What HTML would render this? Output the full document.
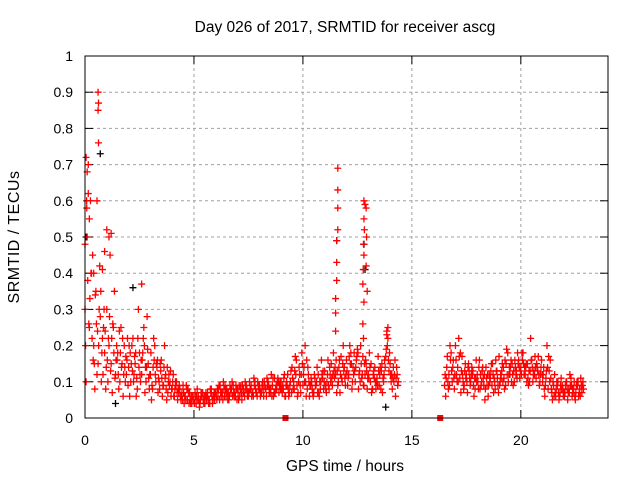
<!DOCTYPE html>
<html><head><meta charset="utf-8"><style>
body{margin:0;background:#fff}
svg{display:block;font-family:"Liberation Sans",sans-serif;font-size:14px}
</style></head><body>
<svg id="chart" width="640" height="480" viewBox="0 0 640 480">
<text x="345" y="32" text-anchor="middle" font-size="15.5">Day 026 of 2017, SRMTID for receiver ascg</text>
<text x="0" y="0" transform="translate(19,237) rotate(-90)" text-anchor="middle" font-size="16" letter-spacing="0.5">SRMTID / TECUs</text>
<text x="345" y="471" text-anchor="middle" font-size="15.5">GPS time / hours</text>
<g id="grid"></g>
<g id="ticks"></g>
<g id="marks"></g>
<rect x="85" y="56" width="523" height="362" fill="none" stroke="#000" stroke-width="1"/>
</svg>
<script>
const xTicks=[0,5,10,15,20];
const yTicks=[0,0.1,0.2,0.3,0.4,0.5,0.6,0.7,0.8,0.9,1];
const yTickLabels=["0","0.1","0.2","0.3","0.4","0.5","0.6","0.7","0.8","0.9","1"];
const hoursA=[0,0.1,0.2,0.3,0.4,0.5,0.6,0.7,0.8,0.9,1,1.1,1.2,1.3,1.4,1.5,1.6,1.7,1.8,1.9,2,2.1,2.2,2.3,2.4,2.5,2.6,2.7,2.8,2.9,3,3.1,3.2,3.3,3.4,3.5,3.6,3.7,3.8,3.9,4,4.1,4.2,4.3,4.4,4.5,4.6,4.7,4.8,4.9,5,5.1,5.2,5.3,5.4,5.5,5.6,5.7,5.8,5.9,6,6.1,6.2,6.3,6.4,6.5,6.6,6.7,6.8,6.9,7,7.1,7.2,7.3,7.4,7.5,7.6,7.7,7.8,7.9,8,8.1,8.2,8.3,8.4,8.5,8.6,8.7,8.8,8.9,9,9.1,9.2,9.3,9.4,9.5,9.6,9.7,9.8,9.9,10,10.1,10.2,10.3,10.4,10.5,10.6,10.7,10.8,10.9,11,11.1,11.2,11.3,11.4,11.5,11.6,11.7,11.8,11.9,12,12.1,12.2,12.3,12.4,12.5,12.6,12.7,12.8,12.9,13,13.1,13.2,13.3,13.4,13.5,13.6,13.7,13.8,13.9,14,14.1,14.2,14.3];
const tecA1=[.30,.50,.25,.40,.20,.35,.15,.28,.22,.18,.30,.20,.15,.25,.12,.18,.10,.15,.20,.12,.14,.10,.22,.15,.08,.18,.12,.25,.10,.15,.12,.08,.20,.14,.10,.16,.09,.12,.07,.10,.08,.06,.10,.07,.05,.09,.06,.05,.07,.04,.05,.04,.06,.05,.07,.04,.06,.05,.08,.06,.07,.06,.09,.07,.06,.08,.05,.07,.09,.06,.08,.06,.05,.07,.09,.06,.08,.07,.10,.06,.09,.07,.06,.08,.10,.07,.09,.11,.08,.07,.10,.08,.06,.12,.09,.14,.08,.16,.10,.07,.09,.20,.08,.06,.10,.07,.09,.12,.08,.11,.13,.10,.08,.15,.18,.12,.09,.07,.10,.14,.16,.12,.18,.14,.10,.19,.13,.11,.09,.15,.12,.10,.08,.14,.11,.09,.13,.10,.17,.22,.15,.08,.12,.14];
const tecB1=[.10,.70,.60,.45,.08,.12,.30,.10,.25,.08,.10,.45,.07,.35,.20,.08,.25,.06,.10,.22,.06,.20,.12,.06,.30,.10,.18,.07,.28,.08,.05,.22,.10,.07,.15,.06,.20,.05,.12,.06,.12,.10,.05,.08,.07,.04,.09,.07,.04,.06,.07,.08,.03,.06,.04,.07,.05,.08,.04,.05,.05,.09,.06,.10,.08,.05,.09,.10,.06,.08,.05,.09,.07,.10,.06,.10,.06,.11,.07,.09,.06,.10,.09,.11,.07,.12,.06,.08,.11,.10,.07,.12,.10,.06,.13,.08,.17,.06,.12,.18,.14,.06,.12,.09,.07,.11,.14,.06,.16,.08,.08,.16,.12,.09,.11,.07,.14,.17,.20,.09,.09,.20,.08,.18,.16,.08,.20,.17,.12,.08,.18,.07,.13,.08,.17,.14,.07,.16,.24,.13,.10,.14,.06,.09];
const tecC1=[.20,.38,.33,.22,.15,.26,.20,.35,.12,.24,.16,.28,.22,.18,.16,.12,.18,.22,.14,.16,.20,.15,.10,.18,.22,.12,.16,.20,.14,.11,.18,.14,.12,.16,.08,.11,.14,.08,.10,.13,.10,.08,.07,.09,.06,.07,.05,.08,.05,.06,.04,.06,.05,.07,.05,.06,.07,.04,.06,.07,.06,.08,.07,.05,.09,.07,.06,.08,.07,.09,.07,.08,.09,.06,.08,.07,.09,.06,.08,.10,.08,.09,.10,.06,.09,.08,.11,.07,.10,.09,.08,.11,.09,.08,.10,.11,.13,.09,.14,.12,.12,.10,.14,.09,.08,.12,.10,.07,.10,.13,.09,.12,.14,.11,.13,.16,.10,.12,.15,.11,.13,.17,.15,.12,.14,.18,.10,.12,.15,.13,.11,.15,.12,.10,.09,.12,.15,.12,.19,.16,.12,.11,.16,.12];
const tecD1=[.60,.26,.40,.16,.34,.24,.42,.18,.30,.14,.22,.13,.26,.11,.16,.24,.14,.12,.17,.09,.18,.13,.17,.11,.14,.16,.22,.14,.19,.12,.09,.16,.15,.11,.13,.09,.11,.14,.09,.08,.06,.09,.08,.06,.05,.06,.08,.04,.06,.05,.06,.05,.04,.07,.06,.05,.04,.07,.05,.07,.08,.05,.07,.08,.06,.07,.08,.06,.07,.05,.09,.07,.08,.08,.07,.08,.07,.09,.07,.08,.07,.08,.08,.09,.08,.06,.07,.09,.10,.08,.09,.06,.09,.07,.07,.10,.12,.07,.09,.15,.10,.16,.10,.11,.06,.09,.07,.10,.12,.10,.07,.09,.10,.12,.14,.13,.16,.11,.13,.12,.11,.15,.10,.13,.17,.12,.15,.09,.16,.11,.14,.08,.11,.10,.13,.08,.11,.14,.20,.18,.12,.10,.11,.10];
const hoursB=[16.5,16.6,16.7,16.8,16.9,17,17.1,17.2,17.3,17.4,17.5,17.6,17.7,17.8,17.9,18,18.1,18.2,18.3,18.4,18.5,18.6,18.7,18.8,18.9,19,19.1,19.2,19.3,19.4,19.5,19.6,19.7,19.8,19.9,20,20.1,20.2,20.3,20.4,20.5,20.6,20.7,20.8,20.9,21,21.1,21.2,21.3,21.4,21.5,21.6,21.7,21.8,21.9,22,22.1,22.2,22.3,22.4,22.5,22.6,22.7,22.8];
const tecA2=[.09,.14,.12,.18,.16,.20,.14,.11,.17,.09,.12,.15,.10,.13,.08,.12,.16,.10,.09,.14,.06,.11,.15,.10,.13,.17,.11,.14,.09,.18,.12,.15,.10,.13,.16,.14,.18,.12,.15,.10,.16,.13,.11,.17,.12,.10,.06,.20,.13,.08,.09,.06,.10,.07,.09,.06,.10,.08,.11,.07,.05,.09,.08,.07];
const tecB2=[.06,.10,.20,.10,.08,.12,.22,.07,.10,.15,.07,.11,.14,.06,.16,.08,.12,.14,.05,.09,.12,.15,.07,.16,.09,.10,.15,.08,.19,.12,.16,.09,.14,.18,.11,.18,.12,.15,.09,.22,.10,.17,.14,.09,.16,.14,.11,.08,.16,.05,.12,.10,.05,.11,.06,.09,.05,.12,.06,.10,.09,.06,.11,.10];
const tecC2=[.12,.17,.09,.13,.11,.16,.10,.18,.12,.13,.10,.13,.12,.09,.11,.10,.08,.13,.12,.11,.09,.13,.12,.08,.11,.09,.13,.11,.15,.10,.14,.12,.16,.11,.14,.12,.15,.14,.11,.13,.14,.12,.15,.12,.14,.12,.09,.14,.10,.07,.06,.08,.07,.09,.08,.07,.08,.07,.09,.08,.07,.10,.06,.09];
const tecD2=[.11,.08,.16,.14,.12,.10,.17,.13,.08,.11,.14,.09,.12,.11,.10,.14,.09,.11,.08,.12,.10,.09,.11,.13,.07,.12,.10,.16,.12,.14,.10,.13,.12,.15,.13,.16,.14,.10,.13,.16,.12,.14,.13,.10,.12,.08,.13,.17,.11,.10,.07,.09,.06,.08,.07,.10,.07,.09,.08,.06,.10,.07,.09,.08];
const spikeHours=[0.05,0.1,0.15,0.2,0.0,0.08,0.6,0.62,0.6,0.62,0.55,1.0,1.1,1.2,0.9,0.8,0.4,2.6,11.6,11.6,11.6,11.6,11.55,11.55,11.55,11.5,11.5,11.5,12.8,12.85,12.8,12.82,12.78,12.8,12.77,12.75,12.8,12.75,12.78,12.9,12.92,12.9,12.95,13.9,13.85];
const spikeVals=[.72,.68,.62,.55,.48,.58,.90,.87,.85,.76,.60,.52,.50,.51,.46,.41,.40,.37,.69,.63,.58,.52,.49,.43,.38,.33,.29,.24,.60,.59,.55,.52,.48,.45,.41,.37,.32,.26,.22,.58,.50,.42,.35,.25,.23];
const blackHours=[0.05,0.7,1.4,11.55,12.8,12.85,13.8,2.2];
const blackVals=[.50,.73,.04,.49,.48,.41,.03,.36];
const zeroHours=[9.2,16.3];
const zeroVals=[0,0];

const X0=85,X1=608,Y0=418,Y1=56,XMAX=24;
const xs=h=>X0+(X1-X0)*h/XMAX;
const ys=v=>Y0-(Y0-Y1)*v;
const NS="http://www.w3.org/2000/svg";
const grid=document.getElementById('grid'),ticks=document.getElementById('ticks'),marks=document.getElementById('marks');
function mk(tag,at,parent){const e=document.createElementNS(NS,tag);for(const k in at)e.setAttribute(k,at[k]);parent.appendChild(e);return e;}
yTicks.forEach((v,i)=>{
  const y=ys(v);
  if(i>0&&i<yTicks.length-1){const g=mk('line',{x1:X0,x2:X1,y1:y,y2:y,stroke:'#a0a0a0','stroke-dasharray':'3,3'},grid);
  
  }
  mk('line',{x1:X0,x2:X0+8,y1:y,y2:y,stroke:'#000'},ticks);
  mk('line',{x1:X1-8,x2:X1,y1:y,y2:y,stroke:'#000'},ticks);
  const t=mk('text',{x:X0-12,y:y+5,'text-anchor':'end'},ticks);t.textContent=yTickLabels[i];
  
  
});
xTicks.forEach(h=>{
  const x=xs(h);
  if(h>0){const g=mk('line',{x1:x,x2:x,y1:Y1,y2:Y0,stroke:'#a0a0a0','stroke-dasharray':'3,3'},grid);
  
  }
  mk('line',{x1:x,x2:x,y1:Y0,y2:Y0-8,stroke:'#000'},ticks);
  mk('line',{x1:x,x2:x,y1:Y1,y2:Y1+8,stroke:'#000'},ticks);
  const t=mk('text',{x:x,y:445,'text-anchor':'middle'},ticks);t.textContent=String(h);
  
  
});
function plus(h,v,color){
  const x=xs(h),y=ys(v);
  const p=mk('path',{d:`M${x-3.5},${y}H${x+3.5}M${x},${y-3.5}V${y+3.5}`,stroke:color,'stroke-width':1.3,fill:'none'},marks);
  
  
}
blackHours.forEach((h,i)=>plus(h,blackVals[i],'#000'));
hoursA.forEach((h,i)=>{plus(h,tecA1[i],'#f00');plus(h+0.05,tecB1[i],'#f00');plus(h+0.025,tecC1[i],'#f00');plus(h+0.075,tecD1[i],'#f00');});
hoursB.forEach((h,i)=>{plus(h,tecA2[i],'#f00');plus(h+0.05,tecB2[i],'#f00');plus(h+0.025,tecC2[i],'#f00');plus(h+0.075,tecD2[i],'#f00');});
spikeHours.forEach((h,i)=>plus(h,spikeVals[i],'#f00'));
zeroHours.forEach((h,i)=>{
  const r=mk('rect',{x:xs(h)-3,y:ys(zeroVals[i])-3,width:6,height:6,fill:'#f00'},marks);
  
  
});
</script>
</body></html>
